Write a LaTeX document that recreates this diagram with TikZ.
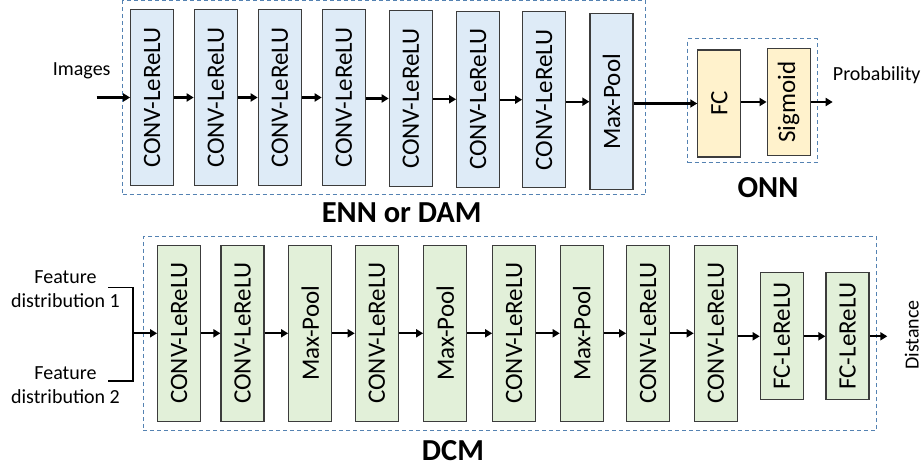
\documentclass[tikz,border=0pt]{standalone}
\usepackage{fontspec}
\setmainfont{Carlito}
\usetikzlibrary{arrows.meta}
\definecolor{bluefill}{RGB}{222,235,247}
\definecolor{greenfill}{RGB}{226,240,217}
\definecolor{yellowfill}{RGB}{255,242,204}
\definecolor{boxline}{RGB}{60,60,60}
\definecolor{dashcol}{RGB}{84,130,178}
\tikzset{
 layer/.style={draw=boxline, line width=1.2pt, minimum width=43pt, minimum height=176pt, inner sep=0pt, font=\fontsize{25}{29}\selectfont},
 encbox/.style={layer, fill=bluefill},
 dcmbox/.style={layer, fill=greenfill},
 fcbox/.style={dcmbox, minimum height=127pt},
 onnbox/.style={layer, fill=yellowfill, minimum height=107pt},
 frame/.style={draw=dashcol, dash pattern=on 4pt off 3pt, line width=1pt, inner sep=0pt},
 flow/.style={line width=2.3pt, -{Triangle[length=7pt,width=8pt]}},
 lbl/.style={font=\fontsize{20}{24}\selectfont, inner sep=0pt},
 grouptitle/.style={font=\fontsize{30.5}{35}\selectfont\bfseries, inner sep=0pt},
}
\begin{document}
\begin{tikzpicture}[x=1pt,y=-1pt]
\useasboundingbox (0,0) rectangle (923,465);
% frames
\node[frame, minimum width=523pt, minimum height=194pt] (enn) at (384.2,98) {};
\node[frame, minimum width=129.3pt, minimum height=123.7pt] (onn) at (752.35,100.85) {};
\node[frame, minimum width=733.4pt, minimum height=194pt] (dcm) at (510,333.7) {};
% top encoder
\node[encbox] (t1) at (152.2,97.5) {\rotatebox{90}{CONV-LeReLU}};
\node[encbox] (t2) at (215.8,97.5) {\rotatebox{90}{CONV-LeReLU}};
\node[encbox] (t3) at (279.8,97.5) {\rotatebox{90}{CONV-LeReLU}};
\node[encbox] (t4) at (343.8,97.5) {\rotatebox{90}{CONV-LeReLU}};
\node[encbox] (t5) at (410.8,98.5) {\rotatebox{90}{CONV-LeReLU}};
\node[encbox] (t6) at (478.2,99.3) {\rotatebox{90}{CONV-LeReLU}};
\node[encbox] (t7) at (544.2,99.7) {\rotatebox{90}{CONV-LeReLU}};
\node[encbox] (t8) at (611.5,101.7) {\rotatebox{90}{Max-Pool}};
% ONN
\node[onnbox] (fc) at (719.35,103.5) {\rotatebox{90}{FC}};
\node[onnbox] (sig) at (788.65,102) {\rotatebox{90}{Sigmoid}};
% bottom DCM
\node[dcmbox] (b1) at (179.2,333.3) {\rotatebox{90}{CONV-LeReLU}};
\node[dcmbox] (b2) at (242.5,333.3) {\rotatebox{90}{CONV-LeReLU}};
\node[dcmbox] (b3) at (310.2,333.3) {\rotatebox{90}{Max-Pool}};
\node[dcmbox] (b4) at (376.8,333.3) {\rotatebox{90}{CONV-LeReLU}};
\node[dcmbox] (b5) at (445.2,333.3) {\rotatebox{90}{Max-Pool}};
\node[dcmbox] (b6) at (514.2,333.3) {\rotatebox{90}{CONV-LeReLU}};
\node[dcmbox] (b7) at (581.8,333.3) {\rotatebox{90}{Max-Pool}};
\node[dcmbox] (b8) at (648.2,333.3) {\rotatebox{90}{CONV-LeReLU}};
\node[dcmbox] (b9) at (715.8,333.3) {\rotatebox{90}{CONV-LeReLU}};
\node[fcbox] (b10) at (781.8,336.3) {\rotatebox{90}{FC-LeReLU}};
\node[fcbox] (b11) at (847.5,336.3) {\rotatebox{90}{FC-LeReLU}};
% labels
\node[lbl] (img) at (81.7,71) {Images};
\node[lbl, anchor=west] (prob) at (832.7,75) {Probability};
\node[lbl, rotate=90] (dist) at (911.7,335) {Distance};
\node[lbl, align=center] (fd1lbl) at (65.5,289) {Feature\\distribution 1};
\node[lbl, align=center] (fd2lbl) at (65.5,385) {Feature\\distribution 2};
\node[grouptitle] (ennt) at (401.7,212.7) {ENN or DAM};
\node[grouptitle] (onnt) at (768,187.7) {ONN};
\node[grouptitle] (dcmt) at (453,450.5) {DCM};
% coordinates
\coordinate (inimg) at (96.7,97.5);
\coordinate (outprob) at (832.7,102);
\coordinate (outdist) at (887.3,336.3);
\coordinate (fa) at (108.3,287.3);
\coordinate (fb) at (108.3,381);
\coordinate (fj) at (132.7,334);
% arrows
\draw[flow] (inimg) -- (t1.west);
\foreach \a/\b in {t1/t2,t2/t3,t3/t4,t4/t5,t5/t6,t6/t7,t7/t8,t8/fc,fc/sig}
  \draw[flow] (\a.east |- \b.west) -- (\b.west);
\draw[flow] (sig.east) -- (outprob);
\foreach \a/\b in {b1/b2,b2/b3,b3/b4,b4/b5,b5/b6,b6/b7,b7/b8,b8/b9,b9/b10,b10/b11}
  \draw[flow] (\a.east |- \b.west) -- (\b.west);
\draw[flow] (b11.east) -- (outdist);
\draw[line width=1.6pt] (fa) -- (fa -| fj) -- (fb -| fj) -- (fb);
\draw[flow] (fj |- b1.west) -- (b1.west);
\end{tikzpicture}
\end{document}
